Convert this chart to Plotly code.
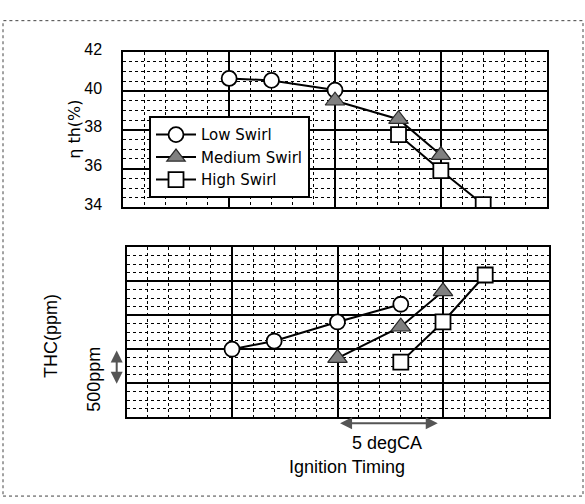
import plotly.graph_objects as go

# ---- data (ignition timing in degCA, relative) ----
series_names = ["Low Swirl", "Medium Swirl", "High Swirl"]

eff_x_low = [5, 7, 10]
eff_y_low = [40.65, 40.55, 40.05]
eff_x_med = [10, 13, 15]
eff_y_med = [39.5, 38.55, 36.7]
eff_x_high = [13, 15, 17]
eff_y_high = [37.75, 35.9, 34.15]

thc_x_low = [5, 7, 10, 13]
thc_y_low = [1000, 1120, 1400, 1660]
thc_x_med = [10, 13, 15]
thc_y_med = [870, 1330, 1850]
thc_x_high = [13, 15, 17]
thc_y_high = [810, 1400, 2090]

eff_ticks = [34, 36, 38, 40, 42]

W, H = 585, 504
FONT = "Liberation Sans, Arial, sans-serif"
LFONT = "DejaVu Sans, sans-serif"

def px(x):
    return x / W

def py(y):
    return (H - y) / H

styles = {
    "Low Swirl": dict(symbol="circle", size=15, color="white", line=dict(color="black", width=1.8)),
    "Medium Swirl": dict(symbol="triangle-up", size=17, color="#808080", line=dict(color="#2a2a2a", width=1.2)),
    "High Swirl": dict(symbol="square", size=15, color="white", line=dict(color="black", width=1.8)),
}

fig = go.Figure()

top = [(eff_x_low, eff_y_low), (eff_x_med, eff_y_med), (eff_x_high, eff_y_high)]
bot = [(thc_x_low, thc_y_low), (thc_x_med, thc_y_med), (thc_x_high, thc_y_high)]

for name, (xs, ys) in zip(series_names, top):
    fig.add_trace(go.Scatter(x=xs, y=ys, name=name, mode="lines+markers",
                             line=dict(color="black", width=2),
                             marker=styles[name], xaxis="x", yaxis="y",
                             showlegend=True))
for name, (xs, ys) in zip(series_names, bot):
    fig.add_trace(go.Scatter(x=xs, y=ys, name=name, mode="lines+markers",
                             line=dict(color="black", width=2),
                             marker=styles[name], xaxis="x2", yaxis="y2",
                             showlegend=False))

grid_major = dict(showgrid=True, gridcolor="black", gridwidth=1.5,
                  showline=True, linecolor="black", linewidth=2, mirror=True,
                  zeroline=False, ticks="")

fig.update_layout(
    width=W, height=H,
    margin=dict(l=0, r=0, t=0, b=0),
    paper_bgcolor="white", plot_bgcolor="white",
    font=dict(family=FONT, color="black", size=16),
    xaxis=dict(domain=[px(123.3), px(546.7)], range=[0, 20], dtick=5, showticklabels=False,
               anchor="y",
               minor=dict(dtick=1, showgrid=True, gridcolor="black", gridwidth=1, griddash="dot"),
               **grid_major),
    yaxis=dict(domain=[py(203.3), py(42.7)], range=[34, 42], tickvals=eff_ticks,
               ticklabelstandoff=16, ticklabelshift=-3, anchor="x",
               tickfont=dict(size=16, family=FONT),
               minor=dict(dtick=0.5, showgrid=True, gridcolor="black", gridwidth=1, griddash="dot"),
               **grid_major),
    xaxis2=dict(domain=[px(126.5), px(548.5)], range=[0, 20], dtick=5, showticklabels=False,
                anchor="y2",
                minor=dict(dtick=1, showgrid=True, gridcolor="black", gridwidth=1, griddash="dot"),
                **grid_major),
    yaxis2=dict(domain=[py(420.5), py(244.3)], range=[0, 2500], dtick=500, showticklabels=False,
                anchor="x2",
                minor=dict(dtick=125, showgrid=True, gridcolor="black", gridwidth=1, griddash="dot"),
                **grid_major),
    legend=dict(x=px(149), y=py(109), xanchor="left", yanchor="top",
                bgcolor="white", bordercolor="black", borderwidth=2,
                font=dict(size=15, family=LFONT), tracegroupgap=0,
                itemwidth=40, itemsizing="trace"),
    showlegend=True,
)

annotations = [
    dict(text="η th(%)", x=px(75), y=py(123), xref="paper", yref="paper",
         xanchor="center", yanchor="middle",
         textangle=-90, showarrow=False, font=dict(size=16, family=LFONT)),
    dict(text="THC(ppm)", x=px(51.7), y=py(336.7), xref="paper", yref="paper",
         xanchor="center", yanchor="middle",
         textangle=-90, showarrow=False, font=dict(size=18)),
    dict(text="500ppm", x=px(94), y=py(381.7), xref="paper", yref="paper",
         xanchor="center", yanchor="middle",
         textangle=-90, showarrow=False, font=dict(size=18)),
    dict(text="5 degCA", x=px(386.7), y=py(446.7), xref="paper", yref="paper",
         xanchor="center", yanchor="middle",
         showarrow=False, font=dict(size=18)),
    dict(text="Ignition Timing", x=px(346.7), y=py(471.7), xref="paper", yref="paper",
         xanchor="center", yanchor="middle",
         showarrow=False, font=dict(size=18)),
    # horizontal 5 degCA double arrow
    dict(text="", x=14.75, y=py(426.7), xref="x2", yref="paper",
         ax=10.05, ay=0, axref="x2", ayref="pixel",
         showarrow=True, arrowside="end+start", arrowhead=2, arrowsize=1.2,
         arrowwidth=2, arrowcolor="#555555", standoff=0, startstandoff=0),
    # vertical 500 ppm double arrow
    dict(text="", x=px(116.7), y=980, xref="paper", yref="y2",
         ax=0, ay=470, axref="pixel", ayref="y2",
         showarrow=True, arrowside="end+start", arrowhead=2, arrowsize=1.2,
         arrowwidth=2, arrowcolor="#555555", standoff=0, startstandoff=0),
]
fig.update_layout(annotations=annotations)

fig.add_shape(type="rect", xref="paper", yref="paper",
              x0=px(3), x1=px(583), y0=py(502), y1=py(10),
              line=dict(color="#444444", width=1, dash="dot"), layer="below")

fig.write_html("out.html")
